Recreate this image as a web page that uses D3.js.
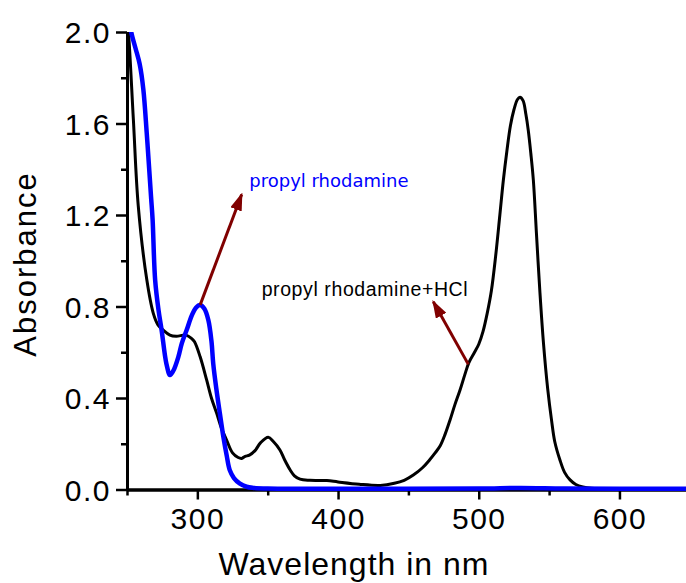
<!DOCTYPE html>
<html>
<head>
<meta charset="utf-8">
<script src="https://cdn.jsdelivr.net/npm/d3@7"></script>
<style>
  body { margin: 0; background: #fff; }
</style>
</head>
<body>
<div id="chart"></div>
<script>
// spectrum of propyl rhodamine + HCl (black) : [wavelength nm, absorbance]
let hclSpectrum = [
    [250, 2.05], [251, 2.0], [254.5, 1.62], [258, 1.24], [264, 0.92], [268.7, 0.77],
    [272, 0.72], [275.8, 0.697], [280.5, 0.675], [285, 0.67], [292, 0.675], [296, 0.66],
    [298, 0.646], [302, 0.58], [306.6, 0.479], [310, 0.40], [313.7, 0.334], [317, 0.27],
    [320.8, 0.216], [325, 0.16], [329, 0.14], [331.5, 0.136], [334, 0.145], [337, 0.15],
    [341, 0.17], [345, 0.205], [350.4, 0.228], [354, 0.21], [358.7, 0.173], [362, 0.13],
    [366, 0.085], [369, 0.06], [373, 0.045], [380, 0.04], [392, 0.039], [400, 0.033],
    [415, 0.023], [430, 0.018], [440, 0.027], [447, 0.04], [453.5, 0.063], [460, 0.095],
    [465, 0.129], [469, 0.16], [472.5, 0.19], [476, 0.24], [479.6, 0.304], [483, 0.37],
    [486.7, 0.435], [490, 0.50], [493, 0.555], [497, 0.60], [500, 0.635], [503, 0.69],
    [506, 0.77], [509, 0.87], [512, 1.02], [515, 1.2], [517.5, 1.353],
    [520, 1.48], [522.5, 1.59], [525, 1.66], [527.5, 1.705], [529.3, 1.715], [531.5, 1.70],
    [533.5, 1.64], [535.2, 1.57], [537, 1.47], [538.8, 1.353], [541, 1.12], [543.5, 0.86],
    [546, 0.64], [549, 0.44], [551.8, 0.30], [554, 0.21], [557.7, 0.129], [561, 0.075],
    [564.9, 0.042], [569, 0.022], [574, 0.011], [580, 0.005], [600, 0.003], [650, 0.002]
];
// spectrum of propyl rhodamine (blue)
let rhodSpectrum = [
    [252, 2.05], [253, 2.0], [256, 1.93], [259, 1.86], [261.6, 1.75], [264, 1.56],
    [266, 1.38], [267.2, 1.27], [268.2, 1.18], [270, 0.916], [272.5, 0.78], [274.6, 0.697],
    [278, 0.55], [280.6, 0.50], [283, 0.52], [286.5, 0.58], [289, 0.64], [292.4, 0.697],
    [296, 0.76], [299, 0.795], [302, 0.807], [305, 0.79], [307.8, 0.741], [310, 0.65],
    [311.3, 0.55], [313.5, 0.44], [316, 0.333], [318.5, 0.23], [320.8, 0.15], [323, 0.085],
    [326, 0.05], [330, 0.027], [335, 0.012], [340, 0.007], [350, 0.004], [400, 0.003],
    [500, 0.004], [530, 0.007], [560, 0.004], [600, 0.003], [650, 0.003]
];

let xTicks = [300, 400, 500, 600];
let xMinorTicks = [250, 350, 450, 550, 650];
let yTicks = [0, 0.4, 0.8, 1.2, 1.6, 2.0];
let yMinorTicks = [0.2, 0.6, 1.0, 1.4, 1.8];

let labelNames = ["propyl rhodamine", "propyl rhodamine+HCl"];
let labelAt = [[336.9, 1.324], [345.7, 0.846]];
// arrows: tail on the curve -> head near the label
let arrowFrom = [[302, 0.807], [492.6, 0.547]];
let arrowTo = [[331.5, 1.29], [467.7, 0.821]];

function init() {
    let width = 686, height = 583;
    let font = "'Liberation Sans', Arial, sans-serif";
    let svg = d3.select("#chart").append("svg")
        .attr("width", width)
        .attr("height", height)
        .style("font-family", font);

    let x = d3.scaleLinear().domain([250, 650]).range([127, 689.8]);
    let y = d3.scaleLinear().domain([0, 2.0]).range([489.5, 32]);

    let defs = svg.append("defs");
    defs.append("clipPath").attr("id", "plotclip")
        .append("rect")
        .attr("x", 127).attr("y", 32)
        .attr("width", width - 127).attr("height", 470);

    let arrowHead = defs.append("marker")
        .attr("id", "head")
        .attr("markerUnits", "userSpaceOnUse")
        .attr("viewBox", "0 0 18 12")
        .attr("refX", 16).attr("refY", 6)
        .attr("markerWidth", 18).attr("markerHeight", 12)
        .attr("orient", "auto");
    arrowHead.append("path").attr("d", "M0,0 L18,6 L0,12 Z").attr("fill", "#800000");

    // y axis
    let yAxis = svg.append("g")
        .attr("transform", "translate(127,0)")
        .call(d3.axisLeft(y).tickValues(yTicks).tickFormat(d3.format(".1f"))
            .tickSize(11).tickSizeOuter(0).tickPadding(5));
    svg.append("g")
        .attr("transform", "translate(127,0)")
        .call(d3.axisLeft(y).tickValues(yMinorTicks).tickFormat("").tickSize(6).tickSizeOuter(0));

    // x axis
    svg.append("g")
        .attr("transform", "translate(0,489.5)")
        .call(d3.axisBottom(x).tickValues(xTicks).tickFormat(d3.format("d"))
            .tickSize(10).tickSizeOuter(0).tickPadding(8));
    svg.append("g")
        .attr("transform", "translate(0,489.5)")
        .call(d3.axisBottom(x).tickValues(xMinorTicks).tickFormat("").tickSize(6).tickSizeOuter(0));

    svg.selectAll(".domain").attr("stroke", "black").attr("stroke-width", 3);
    svg.selectAll(".tick line").attr("stroke", "black").attr("stroke-width", 2.5);
    svg.selectAll(".tick text")
        .style("font-family", font)
        .style("font-size", "30px")
        .attr("letter-spacing", 1.5)
        .attr("fill", "black");
    yAxis.selectAll(".tick text").attr("dy", "0.36em");

    // axis titles
    svg.append("text")
        .attr("x", 354).attr("y", 575)
        .attr("text-anchor", "middle")
        .style("font-size", "32px")
        .attr("letter-spacing", 1)
        .text("Wavelength in nm");
    svg.append("text")
        .attr("transform", "translate(36,264) rotate(-90)")
        .attr("text-anchor", "middle")
        .style("font-size", "31px")
        .attr("letter-spacing", 2)
        .text("Absorbance");

    let line = d3.line()
        .x(d => x(d[0]))
        .y(d => y(d[1]))
        .curve(d3.curveCatmullRom.alpha(0.5));

    let plot = svg.append("g").attr("clip-path", "url(#plotclip)");
    plot.append("path")
        .datum(hclSpectrum)
        .attr("d", line)
        .attr("fill", "none")
        .attr("stroke", "black")
        .attr("stroke-width", 3);
    plot.append("path")
        .datum(rhodSpectrum)
        .attr("d", line)
        .attr("fill", "none")
        .attr("stroke", "#0000ff")
        .attr("stroke-width", 4.5);

    // arrows
    svg.selectAll(".arrow")
        .data(arrowFrom)
        .join("line")
        .attr("class", "arrow")
        .attr("x1", d => x(d[0]))
        .attr("y1", d => y(d[1]))
        .attr("x2", (d, i) => x(arrowTo[i][0]))
        .attr("y2", (d, i) => y(arrowTo[i][1]))
        .attr("stroke", "#800000")
        .attr("stroke-width", 3)
        .attr("marker-end", "url(#head)");

    // labels
    svg.append("text")
        .attr("x", x(labelAt[0][0])).attr("y", y(labelAt[0][1]))
        .style("font-family", "'DejaVu Sans', sans-serif")
        .style("font-size", "18px")
        .attr("fill", "#0000ff")
        .text(labelNames[0]);
    svg.append("text")
        .attr("x", x(labelAt[1][0])).attr("y", y(labelAt[1][1]))
        .style("font-size", "19.5px")
        .attr("letter-spacing", 0.6)
        .attr("fill", "black")
        .text(labelNames[1]);
}
window.onload = init;
</script>
</body>
</html>
